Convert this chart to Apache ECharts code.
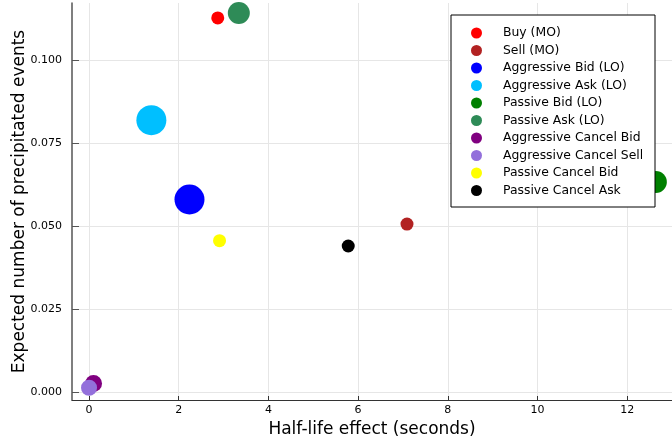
<!DOCTYPE html>
<html>
<head>
<meta charset="utf-8">
<script src="https://cdn.jsdelivr.net/npm/echarts@6/dist/echarts.min.js"></script>
<style>
  html, body { margin: 0; padding: 0; background: #fff; }
  #chart { width: 672px; height: 448px; }
</style>
</head>
<body>
<div id="chart"></div>
<script>
// Event types, one scatter series each
const eventNames = [
  'Buy (MO)', 'Sell (MO)', 'Aggressive Bid (LO)', 'Aggressive Ask (LO)',
  'Passive Bid (LO)', 'Passive Ask (LO)', 'Aggressive Cancel Bid',
  'Aggressive Cancel Sell', 'Passive Cancel Bid', 'Passive Cancel Ask'
];
// Half-life effect (seconds)
const halfLife = [2.87, 7.09, 2.24, 1.39, 12.64, 3.34, 0.10, 0.00, 2.91, 5.78];
// Expected number of precipitated events
const expectedEvents = [0.1127, 0.0506, 0.0580, 0.0819, 0.0633, 0.1142, 0.0026, 0.0013, 0.0456, 0.0440];
// Marker diameters
const markerSize = [13, 13, 30, 30, 22, 22, 17, 16, 13, 13];
const colors = ['#ff0000', '#b22222', '#0000ff', '#00bfff', '#008000',
                '#2e8b57', '#800080', '#9370db', '#ffff00', '#000000'];

const xTicks = [0, 2, 4, 6, 8, 10, 12];
const yTicks = [0, 0.025, 0.05, 0.075, 0.1];

const FONT = 'DejaVu Sans';

const series = eventNames.map((name, i) => ({
  name: name,
  type: 'scatter',
  data: [[halfLife[i], expectedEvents[i]]],
  symbol: 'circle',
  symbolSize: markerSize[i],
  itemStyle: { color: colors[i], opacity: 1 },
  emphasis: { disabled: true }
}));

const chart = echarts.init(document.getElementById('chart'), null, { renderer: 'canvas' });
chart.setOption({
  animation: false,
  backgroundColor: '#ffffff',
  color: colors,
  grid: { left: 72, right: 0, top: 3, bottom: 48, containLabel: false, outerBoundsMode: 'none' },
  xAxis: {
    type: 'value',
    min: -0.38,
    max: 13.0,
    name: 'Half-life effect (seconds)',
    nameLocation: 'middle',
    nameGap: 21,
    nameMoveOverlap: false,
    nameTextStyle: { fontFamily: FONT, fontSize: 17, color: '#000' },
    axisLine: { show: true, onZero: false, lineStyle: { color: '#333', width: 1 } },
    axisTick: { show: true, inside: true, length: 4, customValues: xTicks, lineStyle: { color: '#333' } },
    axisLabel: { customValues: xTicks, fontFamily: FONT, fontSize: 11, color: '#000', margin: 5 },
    splitLine: { show: true, lineStyle: { color: '#e6e6e6', width: 1 } }
  },
  yAxis: {
    type: 'value',
    min: -0.0024,
    max: 0.1172,
    name: 'Expected number of precipitated events',
    nameLocation: 'middle',
    nameGap: 44,
    nameMoveOverlap: false,
    nameTextStyle: { fontFamily: FONT, fontSize: 17, color: '#000' },
    axisLine: { show: true, onZero: false, lineStyle: { color: '#555', width: 1.5 } },
    axisTick: { show: true, inside: true, length: 7, customValues: yTicks, lineStyle: { color: '#555' } },
    axisLabel: {
      customValues: yTicks, fontFamily: FONT, fontSize: 11, color: '#000', margin: 10,
      formatter: v => v.toFixed(3)
    },
    splitLine: { show: true, lineStyle: { color: '#e6e6e6', width: 1 } }
  },
  graphic: [{
    type: 'rect',
    z: 3,
    shape: { x: 451, y: 15, width: 204, height: 192 },
    style: { fill: '#ffffff', stroke: '#000000', lineWidth: 1 }
  }],
  legend: {
    z: 5,
    orient: 'vertical',
    left: 471,
    top: 27,
    padding: 0,
    itemWidth: 11,
    itemHeight: 11,
    itemGap: 5.5,
    icon: 'circle',
    textStyle: { fontFamily: FONT, fontSize: 12.4, lineHeight: 11, color: '#000', padding: [0, 0, 0, 16] },
    selectedMode: false,
    data: eventNames
  },
  series: series
});
</script>
</body>
</html>
